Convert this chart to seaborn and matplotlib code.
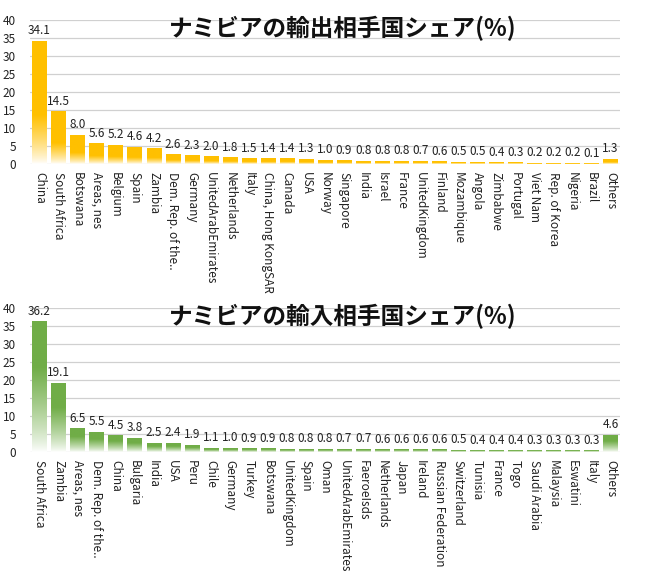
import numpy as np
import matplotlib
matplotlib.use('Agg')
import matplotlib.pyplot as plt
import seaborn as sns
import pandas as pd

# ---- data ----
export_countries = ['China', 'South Africa', 'Botswana', 'Areas, nes', 'Belgium', 'Spain', 'Zambia',
                    'Dem. Rep. of the..', 'Germany', 'UnitedArabEmirates', 'Netherlands', 'Italy',
                    'China, Hong KongSAR', 'Canada', 'USA', 'Norway', 'Singapore', 'India', 'Israel',
                    'France', 'UnitedKingdom', 'Finland', 'Mozambique', 'Angola', 'Zimbabwe',
                    'Portugal', 'Viet Nam', 'Rep. of Korea', 'Nigeria', 'Brazil', 'Others']
export_share = [34.1, 14.5, 8.0, 5.6, 5.2, 4.6, 4.2, 2.6, 2.3, 2.0, 1.8, 1.5, 1.4, 1.4, 1.3, 1.0,
                0.9, 0.8, 0.8, 0.8, 0.7, 0.6, 0.5, 0.5, 0.4, 0.3, 0.2, 0.2, 0.2, 0.1, 1.3]

import_countries = ['South Africa', 'Zambia', 'Areas, nes', 'Dem. Rep. of the..', 'China', 'Bulgaria',
                    'India', 'USA', 'Peru', 'Chile', 'Germany', 'Turkey', 'Botswana', 'UnitedKingdom',
                    'Spain', 'Oman', 'UnitedArabEmirates', 'FaeroeIsds', 'Netherlands', 'Japan',
                    'Ireland', 'Russian Federation', 'Switzerland', 'Tunisia', 'France', 'Togo',
                    'Saudi Arabia', 'Malaysia', 'Eswatini', 'Italy', 'Others']
import_share = [36.2, 19.1, 6.5, 5.5, 4.5, 3.8, 2.5, 2.4, 1.9, 1.1, 1.0, 0.9, 0.9, 0.8, 0.8, 0.8,
                0.7, 0.7, 0.6, 0.6, 0.6, 0.6, 0.5, 0.4, 0.4, 0.4, 0.3, 0.3, 0.3, 0.3, 4.6]

export_title = 'ナミビアの輸出相手国シェア(%)'
import_title = 'ナミビアの輸入相手国シェア(%)'

sns.set_style('white')
plt.rcParams['font.family'] = ['Noto Sans CJK JP', 'DejaVu Sans']


def gradient_bars(ax, color, solid_from):
    # excel-like gradient: full colour at top, fading to white at the bottom
    rgb = np.array(matplotlib.colors.to_rgb(color))
    t = np.linspace(0, 1, 200)
    g = np.clip(t / solid_from, 0, 1) ** 0.8
    img = np.ones((200, 1, 3)) * (1 - g)[:, None, None] + rgb[None, None, :] * g[:, None, None]
    for p in ax.patches:
        x0 = p.get_x()
        w = p.get_width()
        h = p.get_height()
        if h <= 0:
            continue
        ax.imshow(img, extent=[x0, x0 + w, 0, h], origin='lower', aspect='auto', zorder=2)
        p.set_facecolor('none')
        p.set_edgecolor('none')


def draw_panel(ax, names, values, color, title, solid_from):
    df = pd.DataFrame({'country': names, 'share': values})
    sns.barplot(data=df, x='country', y='share', color=color, width=0.75, ax=ax, zorder=2)
    ax.bar_label(ax.containers[0], fmt='%.1f', padding=3, fontsize=8.5, color='#222222')
    gradient_bars(ax, color, solid_from)
    ax.set_xlim(-0.5, len(names) - 0.5)
    ax.set_ylim(0, 40)
    ax.set_yticks(range(0, 41, 5))
    ax.grid(axis='y', color='#d0d0d0', linewidth=0.9, zorder=0)
    ax.set_axisbelow(True)
    for s in ax.spines.values():
        s.set_visible(False)
    ax.set_xlabel('')
    ax.set_ylabel('')
    ax.tick_params(axis='both', length=0, labelsize=8.5, colors='#222222')
    ax.tick_params(axis='y', pad=10)
    ax.tick_params(axis='x', pad=6)
    plt.setp(ax.get_xticklabels(), rotation=270, ha='center', va='top')
    ax.text(0.53, 0.94, title, transform=ax.transAxes, ha='center', va='center',
            fontsize=17, fontweight='bold', color='#111111', zorder=5)


fig = plt.figure(figsize=(6.5, 5.76), dpi=100)
ax1 = fig.add_axes([0.046, 0.715, 0.908, 0.25])
ax2 = fig.add_axes([0.046, 0.215, 0.908, 0.25])

draw_panel(ax1, export_countries, export_share, '#FFC000', export_title, 0.4)
draw_panel(ax2, import_countries, import_share, '#70AD47', import_title, 0.65)

fig.savefig('out.png', dpi=100)
